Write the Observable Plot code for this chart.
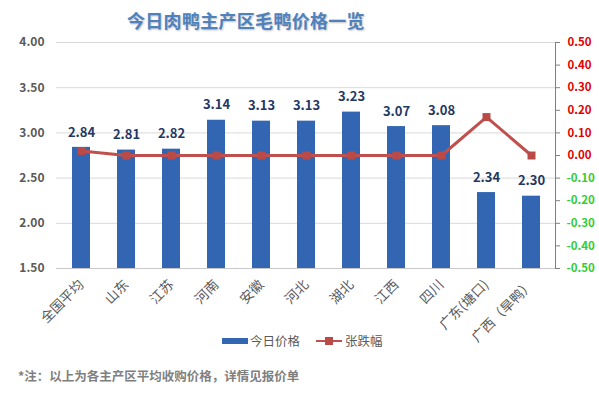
<!DOCTYPE html>
<html><head><meta charset="utf-8">
<script src="https://cdn.jsdelivr.net/npm/d3@7"></script>
<script src="https://cdn.jsdelivr.net/npm/@observablehq/plot@0.6"></script>
<style>
body{margin:0;background:#fff;font-family:"Noto Sans CJK SC","Noto Sans",sans-serif;}
#wrap{position:relative;width:599px;height:393px;overflow:hidden;}
#title{height:28px;line-height:40px;font-size:18px;font-weight:bold;color:#4F81BD;text-shadow:1px 1px 2px rgba(0,0,0,0.25);padding-left:127px;letter-spacing:0.3px;}
#legend{position:absolute;left:222px;top:331px;font-size:12.5px;color:#595959;display:flex;align-items:center;}
#note{position:absolute;left:18px;top:366px;font-size:12.5px;font-weight:bold;color:#7f7f7f;}
</style></head>
<body><div id="wrap">
<div id="title">今日肉鸭主产区毛鸭价格一览</div>
<div id="chart"></div>
<div id="legend"></div>
<div id="note">*注：以上为各主产区平均收购价格，详情见报价单</div>
</div>
<script>
const categories = ["全国平均","山东","江苏","河南","安徽","河北","湖北","江西","四川","广东(塘口)","广西（旱鸭）"];
const prices = [2.84,2.81,2.82,3.14,3.13,3.13,3.23,3.07,3.08,2.34,2.30];
const changes = [0.02,0,0,0,0,0,0,0,0,0.17,0];
const leftTicks = [1.5,2.0,2.5,3.0,3.5,4.0];
const rightTicks = [-0.5,-0.4,-0.3,-0.2,-0.1,0,0.1,0.2,0.3,0.4,0.5];
const seriesNames = ["今日价格","张跌幅"];

const data = categories.map((c,i)=>({name:c, price:prices[i], change:changes[i]}));
// secondary axis [-0.5,0.5] mapped onto primary [1.5,4]
const toPrimary = c => 2.75 + c*2.5;
const barColor = "#3366B2", lineColor = "#C0504D";

const chart = Plot.plot({
  width:599, height:320,
  marginLeft:56, marginRight:44, marginTop:14, marginBottom:80,
  x:{domain:categories, paddingInner:0.6, paddingOuter:0.3, label:null},
  y:{domain:[1.5,4], label:null},
  style:{fontFamily:"'Noto Sans CJK SC','Noto Sans',sans-serif", color:"#595959", background:"transparent", overflow:"visible"},
  marks:[
    Plot.gridY(leftTicks.filter(t=>t>1.5), {stroke:"#d9d9d9", strokeOpacity:1}),
    Plot.ruleY([1.5], {stroke:"#c8c8c8"}),
    Plot.barY(data, {x:"name", y1:1.5, y2:"price", fill:barColor}),
    Plot.text(data, {x:"name", y:"price", text:d=>d.price.toFixed(2), dy:-15, fontSize:13, fontWeight:"bold", fill:"#1F3864"}),
    Plot.lineY(data, {x:"name", y:d=>toPrimary(d.change), stroke:lineColor, strokeWidth:3}),
    Plot.dot(data, {x:"name", y:d=>toPrimary(d.change), symbol:"square", r:4.5, fill:"#B94A48", stroke:null}),
    Plot.axisY(leftTicks, {anchor:"left", tickSize:0, tickPadding:12, tickFormat:d=>d.toFixed(2), fontSize:12, fontWeight:"bold", label:null}),
    Plot.axisY(rightTicks.map(toPrimary), {anchor:"right", tickSize:4, tickFormat:()=>"", stroke:"#808080", label:null}),
    Plot.frame({anchor:"right", stroke:"#808080"}),
    Plot.text(rightTicks.filter(t=>t>=-0.001), {y:toPrimary, text:d=>d.toFixed(2), frameAnchor:"right", dx:12, textAnchor:"start", fill:"#E00000", fontSize:11.5, fontWeight:"bold"}),
    Plot.text(rightTicks.filter(t=>t<-0.001), {y:toPrimary, text:d=>d.toFixed(2), frameAnchor:"right", dx:11, textAnchor:"start", fill:"#33CC33", fontSize:11.5, fontWeight:"bold"}),
    Plot.axisX({tickRotate:-45, tickSize:0, tickPadding:14, fontSize:13.5, label:null})
  ]
});
document.getElementById("chart").appendChild(chart);

const lg = document.getElementById("legend");
lg.innerHTML =
 `<span style="display:inline-block;width:26px;height:6px;background:${barColor};margin-right:2px"></span><span>${seriesNames[0]}</span>`+
 `<span style="display:inline-block;position:relative;width:26px;height:8px;margin-left:16px;margin-right:3px"><span style="position:absolute;left:0;top:3px;width:26px;height:2.5px;background:${lineColor}"></span><span style="position:absolute;left:9px;top:0;width:8px;height:8px;background:#B94A48"></span></span><span>${seriesNames[1]}</span>`;
</script>
</body></html>
